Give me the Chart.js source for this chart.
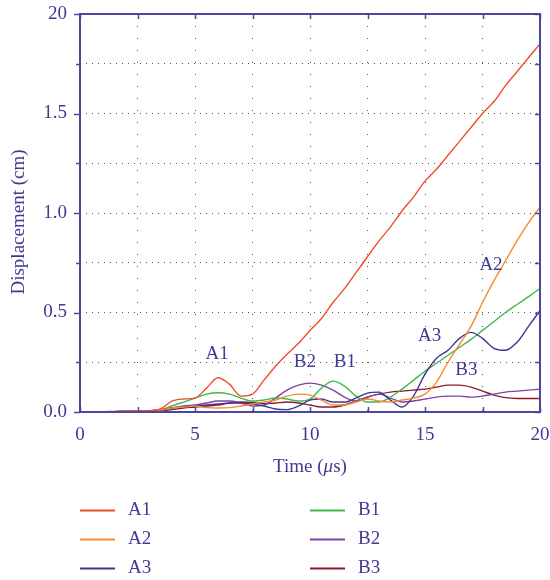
<!DOCTYPE html>
<html><head><meta charset="utf-8">
<script src="https://cdn.jsdelivr.net/npm/chart.js@4"></script>
<style>html,body{margin:0;padding:0;background:#fff}#wrap{width:550px;height:580px}</style>
</head><body><div id="wrap"><canvas id="c" width="550" height="580"></canvas></div>
<script>
const time = [0,0.5,1,1.5,2,2.5,3,3.5,4,4.5,5,5.5,6,6.5,7,7.5,8,8.5,9,9.5,10,10.5,11,11.5,12,12.5,13,13.5,14,14.5,15,15.5,16,16.5,17,17.5,18,18.5,19,19.5,20];
const A1 = [0,0,0.002,0.003,0.004,0.005,0.007,0.015,0.055,0.065,0.07,0.12,0.172,0.14,0.08,0.09,0.16,0.23,0.29,0.345,0.41,0.47,0.55,0.62,0.70,0.78,0.86,0.93,1.01,1.08,1.16,1.22,1.29,1.36,1.43,1.50,1.56,1.64,1.71,1.78,1.85];
const A2 = [0,0,0.001,0.002,0.003,0.004,0.005,0.01,0.02,0.025,0.03,0.022,0.02,0.022,0.03,0.04,0.05,0.06,0.08,0.09,0.085,0.06,0.035,0.035,0.05,0.065,0.055,0.05,0.06,0.07,0.09,0.15,0.25,0.34,0.43,0.55,0.66,0.76,0.86,0.95,1.03];
const A3 = [0,0,0.001,0.002,0.003,0.004,0.005,0.01,0.02,0.025,0.03,0.035,0.04,0.045,0.045,0.04,0.03,0.015,0.012,0.03,0.06,0.065,0.05,0.05,0.07,0.095,0.10,0.06,0.025,0.08,0.19,0.27,0.31,0.37,0.40,0.37,0.32,0.31,0.35,0.43,0.51];
const B1 = [0,0,0.001,0.002,0.003,0.004,0.005,0.01,0.03,0.05,0.07,0.09,0.097,0.09,0.07,0.055,0.06,0.07,0.065,0.055,0.065,0.12,0.155,0.13,0.08,0.05,0.05,0.075,0.115,0.16,0.205,0.245,0.285,0.325,0.365,0.41,0.455,0.50,0.54,0.58,0.62];
const B2 = [0,0,0.001,0.002,0.003,0.004,0.005,0.01,0.02,0.03,0.035,0.045,0.055,0.055,0.045,0.03,0.035,0.07,0.11,0.135,0.145,0.135,0.11,0.075,0.055,0.075,0.09,0.07,0.05,0.055,0.065,0.075,0.08,0.08,0.075,0.08,0.09,0.10,0.105,0.11,0.115];
const B3 = [0,0,0.001,0.002,0.003,0.004,0.005,0.006,0.012,0.02,0.025,0.03,0.035,0.045,0.05,0.048,0.042,0.045,0.05,0.045,0.035,0.025,0.025,0.035,0.055,0.075,0.09,0.10,0.105,0.11,0.115,0.125,0.135,0.135,0.125,0.105,0.085,0.072,0.068,0.068,0.068];
const seriesNames = ['A1','A2','A3','B1','B2','B3'];
const xTickValues = [0,5,10,15,20];
const xTickLabels = ['0','5','10','15','20'];
const yTickValues = [0,0.5,1,1.5,2];
const yTickLabels = ['0.0','0.5','1.0','1.5','20'];
const curveLabels = ['A1','B2','B1','A3','A2','B3'];
const curveLabelX = [5.96,9.78,11.52,15.2,17.87,16.8];
const curveLabelY = [0.29,0.25,0.25,0.38,0.74,0.21];

const AXIS = '#4a47a0';
const TEXT = '#3d3a94';
const FONT = '"Liberation Serif", "DejaVu Serif", serif';
const colors = ['#f14d2b','#f78a2e','#3b3794','#3fb94b','#7c43a8','#8e1b2c'];
const values = [A1,A2,A3,B1,B2,B3];

const datasets = seriesNames.map((n,i)=>({
  label:n,
  data: time.map((t,k)=>({x:t,y:values[i][k]})),
  borderColor: colors[i], backgroundColor: colors[i],
  borderWidth:1.4, pointRadius:0, cubicInterpolationMode:'monotone', fill:false
}));

const deco = {
  id:'deco',
  afterDraw(chart){
    const {ctx, chartArea:a, scales:{x,y}} = chart;
    ctx.save();
    ctx.strokeStyle = AXIS;
    ctx.lineWidth = 2;
    ctx.strokeRect(a.left, a.top, a.right-a.left, a.bottom-a.top);
    ctx.lineWidth = 1.5;
    ctx.beginPath();
    for (let v=0; v<=20.001; v+=2.5){
      const px = Math.round(x.getPixelForValue(v))+0.5;
      ctx.moveTo(px,a.bottom); ctx.lineTo(px,a.bottom-5);
      ctx.moveTo(px,a.top); ctx.lineTo(px,a.top+5);
    }
    for (let v=0; v<=2.001; v+=0.25){
      const py = Math.round(y.getPixelForValue(v))+0.5;
      const major = Math.abs(v*2-Math.round(v*2))<1e-6;
      ctx.moveTo(a.left,py); ctx.lineTo(a.left-(major?6:4),py);
      ctx.moveTo(a.right,py); ctx.lineTo(a.right-5,py);
    }
    ctx.stroke();
    // curve labels
    ctx.fillStyle = TEXT;
    ctx.font = '19px '+FONT;
    ctx.textAlign='center'; ctx.textBaseline='middle';
    curveLabels.forEach((t,i)=>{
      ctx.fillText(t, x.getPixelForValue(curveLabelX[i]), y.getPixelForValue(curveLabelY[i]));
    });
    // x title with italic mu
    const parts = [['Time (','normal'],['\u03bc','italic'],['s)','normal']];
    let w = 0;
    parts.forEach(p=>{ctx.font=(p[1]==='italic'?'italic ':'')+'19px '+FONT; w+=ctx.measureText(p[0]).width;});
    let sx = (a.left+a.right)/2 - w/2;
    ctx.textAlign='left';
    parts.forEach(p=>{ctx.font=(p[1]==='italic'?'italic ':'')+'19px '+FONT; ctx.fillText(p[0],sx,467); sx+=ctx.measureText(p[0]).width;});
    // y title
    ctx.save();
    ctx.translate(19, 222);
    ctx.rotate(-Math.PI/2);
    ctx.textAlign='center';
    ctx.font='19px '+FONT;
    ctx.fillText('Displacement (cm)',0,0);
    ctx.restore();
    // legend
    const rows = [510,539,568];
    const cols = [[80,115,128],[310,345,358]];
    chart.data.datasets.forEach((ds,i)=>{
      const col = cols[Math.floor(i/3)], ry = rows[i%3];
      ctx.strokeStyle = ds.borderColor; ctx.lineWidth = 2;
      ctx.beginPath(); ctx.moveTo(col[0],ry+0.5); ctx.lineTo(col[1],ry+0.5); ctx.stroke();
      ctx.fillStyle = TEXT; ctx.font='19px '+FONT; ctx.textAlign='left'; ctx.textBaseline='middle';
      ctx.fillText(ds.label, col[2], ry);
    });
    ctx.restore();
  }
};

new Chart(document.getElementById('c'), {
  type:'line',
  data:{datasets},
  options:{
    responsive:false, animation:false,
    layout:{padding:{top:14,right:10,left:0,bottom:108}},
    plugins:{legend:{display:false}, tooltip:{enabled:false}},
    scales:{
      x:{type:'linear', min:0, max:20,
        afterFit(s){s.height=60; s.paddingLeft=0; s.paddingRight=0;},
        afterBuildTicks(s){s.ticks=[0,2.5,5,7.5,10,12.5,15,17.5,20].map(v=>({value:v}));},
        ticks:{autoSkip:false, maxRotation:0, padding:12, color:TEXT, font:{family:FONT,size:19},
          callback:(v)=>{const i=xTickValues.indexOf(v); return i>=0?xTickLabels[i]:'';}},
        grid:{color:'#555', lineWidth:1, drawTicks:false},
        border:{display:false, dash:[1,11]}
      },
      y:{type:'linear', min:0, max:2,
        afterFit(s){s.width=80; s.paddingTop=0; s.paddingBottom=0;},
        afterBuildTicks(s){s.ticks=[0,0.25,0.5,0.75,1,1.25,1.5,1.75,2].map(v=>({value:v}));},
        ticks:{autoSkip:false, padding:13, color:TEXT, font:{family:FONT,size:19},
          callback:(v)=>{const i=yTickValues.indexOf(v); return i>=0?yTickLabels[i]:'';}},
        grid:{color:'#555', lineWidth:1, drawTicks:false},
        border:{display:false, dash:[1,5]}
      }
    }
  },
  plugins:[deco]
});
</script></body></html>
